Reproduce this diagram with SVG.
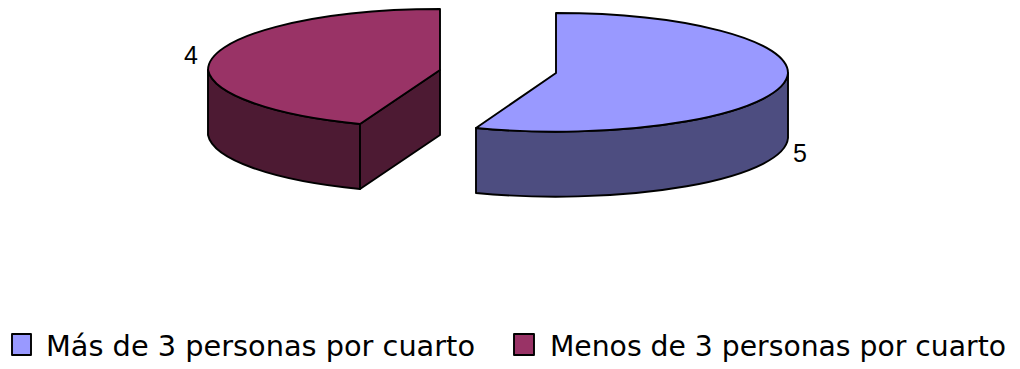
<svg xmlns="http://www.w3.org/2000/svg" width="1020" height="369" viewBox="0 0 1020 369">
<style>
.edge{stroke:#000;stroke-width:1.9;stroke-linejoin:round}
.lbl{font-family:"Liberation Sans",Arial,sans-serif;font-size:25px;fill:#000}
.leg{font-family:"DejaVu Sans","Liberation Sans",sans-serif;font-size:29px;fill:#000}
</style>
<rect width="1020" height="369" fill="#fff"/>
<g id="slice-menos">
  <path class="edge" fill="#4D1A33" d="M208,70 A232,61 0 0,0 360,124 L360,189 A232,61 0 0,1 208,135 Z"/>
  <path class="edge" fill="#4D1A33" d="M360,124 L440,70 L440,135 L360,189 Z"/>
  <path class="edge" fill="#993366" d="M440,70 L440,9 A232,61 0 0,0 208,70 A232,61 0 0,0 360,124 Z"/>
  <text class="lbl" x="184" y="64">4</text>
</g>
<g id="slice-mas">
  <path class="edge" fill="#4D4D80" d="M788,73 A232,60 0 0,1 476,128 L476,193 A232,60 0 0,0 788,138 Z"/>
  <path class="edge" fill="#9999FF" d="M556,73 L556,13 A232,60 0 0,1 788,73 A232,60 0 0,1 476,128 Z"/>
  <text class="lbl" x="793" y="162">5</text>
</g>
<g id="legend">
  <rect class="edge" x="12" y="334" width="19" height="21" fill="#9999FF"/>
  <text class="leg" x="46" y="356" textLength="429" lengthAdjust="spacingAndGlyphs">Más de 3 personas por cuarto</text>
  <rect class="edge" x="514" y="334" width="20" height="21" fill="#993366"/>
  <text class="leg" x="550" y="356" textLength="456" lengthAdjust="spacingAndGlyphs">Menos de 3 personas por cuarto</text>
</g>
</svg>
